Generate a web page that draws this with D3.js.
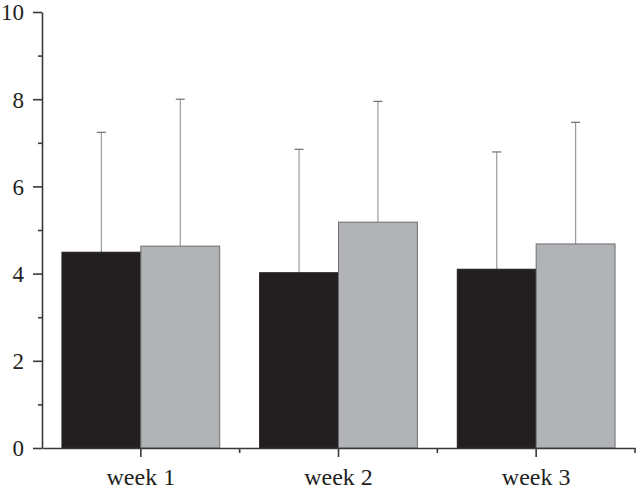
<!DOCTYPE html>
<meta charset="utf-8">
<style>
  body { margin: 0; background: #fff; }
  text { font-family: "Liberation Serif", "Times New Roman", serif; fill: #231f20; }
</style>
<script src="https://d3js.org/d3.v7.min.js"></script>
<body>
<script>
// data
var weeks = ["week 1", "week 2", "week 3"];
var series = ["a", "b"];
var means = [[4.49, 4.63], [4.02, 5.18], [4.10, 4.68]];
var upper = [[7.24, 8.00], [6.85, 7.95], [6.79, 7.47]];
var yMajor = [0, 2, 4, 6, 8, 10];
var yMinor = [1, 3, 5, 7, 9];

var fills = ["#231f20", "#b2b3b6"];
var strokes = ["#231f20", "#6d6e70"];

var width = 636, height = 490;
var padLeft = 42, padRight = 635, padTop = 12, padBottom = 448;

var svg = d3.select("body").append("svg")
  .attr("width", width)
  .attr("height", height);

var x = d3.scaleBand().domain(weeks).range([padLeft, padRight]);
var xs = d3.scaleBand().domain(series).range([0, x.bandwidth()]).paddingOuter(0.253);
var y = d3.scaleLinear().domain([0, 10]).range([padBottom, padTop]);

// bars
var groups = svg.selectAll("g.grp")
  .data(weeks)
  .enter().append("g")
  .attr("class", "grp")
  .attr("transform", function(d) { return "translate(" + x(d) + ",0)"; });

groups.each(function(w, i) {
  var g = d3.select(this);
  var rows = series.map(function(s, j) { return { s: s, j: j, m: means[i][j], u: upper[i][j] }; });

  // error bars (upper only)
  g.selectAll("line.err")
    .data(rows)
    .enter().append("line")
    .attr("class", "err")
    .attr("x1", function(d) { return xs(d.s) + xs.bandwidth() / 2; })
    .attr("x2", function(d) { return xs(d.s) + xs.bandwidth() / 2; })
    .attr("y1", function(d) { return y(d.m); })
    .attr("y2", function(d) { return y(d.u); })
    .style("stroke", "#9a9b9d")
    .style("stroke-width", 1.2);

  g.selectAll("line.cap")
    .data(rows)
    .enter().append("line")
    .attr("class", "cap")
    .attr("x1", function(d) { return xs(d.s) + xs.bandwidth() / 2 - 4.5; })
    .attr("x2", function(d) { return xs(d.s) + xs.bandwidth() / 2 + 4.5; })
    .attr("y1", function(d) { return y(d.u); })
    .attr("y2", function(d) { return y(d.u); })
    .style("stroke", "#6d6e70")
    .style("stroke-width", 1.2);

  g.selectAll("rect")
    .data(rows)
    .enter().append("rect")
    .attr("x", function(d) { return xs(d.s); })
    .attr("y", function(d) { return y(d.m); })
    .attr("width", xs.bandwidth())
    .attr("height", function(d) { return y(0) - y(d.m); })
    .style("fill", function(d) { return fills[d.j]; })
    .style("stroke", function(d) { return strokes[d.j]; })
    .style("stroke-width", 1);
});

// y axis
var yAxis = svg.append("g")
  .attr("class", "axis")
  .attr("transform", "translate(" + padLeft + ",0)")
  .call(d3.axisLeft(y).tickValues(yMajor).tickSize(9).tickSizeOuter(0).tickPadding(9).tickFormat(d3.format("d")));
svg.append("g")
  .attr("class", "axis")
  .attr("transform", "translate(" + padLeft + ",0)")
  .call(d3.axisLeft(y).tickValues(yMinor).tickSize(4).tickSizeOuter(0).tickFormat(""))
  .select(".domain").remove();

// x axis: long ticks at group centres, short ticks at group edges
var xAxis = svg.append("g")
  .attr("class", "axis")
  .attr("transform", "translate(0," + padBottom + ")")
  .call(d3.axisBottom(x).tickSize(9).tickSizeOuter(0).tickPadding(11));
var edges = weeks.slice(1).map(function(w) { return x(w); }).concat([padRight]);
svg.append("g")
  .attr("class", "axis")
  .selectAll("line")
  .data(edges)
  .enter().append("line")
  .attr("x1", function(d) { return d; })
  .attr("x2", function(d) { return d; })
  .attr("y1", padBottom)
  .attr("y2", padBottom + 5);

svg.selectAll(".axis path, .axis line")
  .style("stroke", "#3a3a3c")
  .style("stroke-width", 1.6);

yAxis.selectAll("text").style("font-size", "23px").attr("dy", "0.34em");
xAxis.selectAll("text").style("font-size", "24px");
</script>
</body>
